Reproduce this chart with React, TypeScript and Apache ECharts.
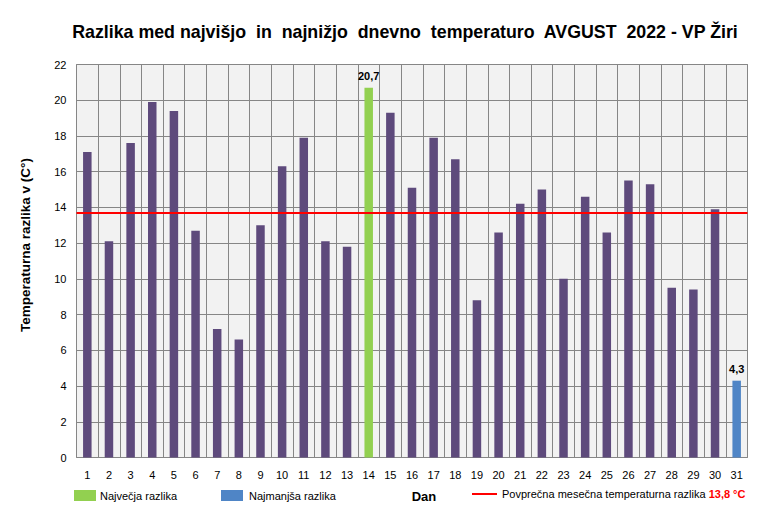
import React, { useEffect, useRef } from "react";
import * as echarts from "echarts";

const days: string[] = Array.from({ length: 31 }, (_, i) => String(i + 1));
const tempDiff: number[] = [
  17.1, 12.1, 17.6, 19.9, 19.4, 12.7, 7.2, 6.6, 13.0, 16.3, 17.9, 12.1, 11.8, 20.7, 19.3, 15.1,
  17.9, 16.7, 8.8, 12.6, 14.2, 15.0, 10.0, 14.6, 12.6, 15.5, 15.3, 9.5, 9.4, 13.9, 4.3,
];
const averageDiff = 13.7;
const averageLabel = "13,8 °C";
const titleText = "Razlika med najvišjo  in  najnižjo  dnevno  temperaturo  AVGUST  2022 - VP Žiri";
const yAxisName = "Temperaturna razlika v (C°)";
const xAxisName = "Dan";
const legendMax = "Največja razlika";
const legendMin = "Najmanjša razlika";
const legendAvg = "Povprečna mesečna temperaturna razlika";

const PURPLE = "#5e4a7c";
const GREEN = "#92d050";
const BLUE = "#4f85c6";
const FONT = "Liberation Sans";

export default function App() {
  const ref = useRef<HTMLDivElement>(null);
  useEffect(() => {
    if (!ref.current) return;
    const chart = echarts.init(ref.current, null, { renderer: "svg" });
    const maxV = Math.max(...tempDiff);
    const minV = Math.min(...tempDiff);
    const data = tempDiff.map((v) => {
      const isMax = v === maxV;
      const isMin = v === minV;
      return {
        value: v,
        itemStyle: { color: isMax ? GREEN : isMin ? BLUE : PURPLE },
        label: {
          show: isMax || isMin,
          position: "top",
          distance: 6,
          formatter: () => String(v).replace(".", ","),
          fontFamily: FONT,
          fontWeight: "bold",
          fontSize: 11,
          color: "#000",
        },
      };
    });
    chart.setOption({
      animation: false,
      grid: {
        left: 76.5,
        right: 22.5,
        top: 64.5,
        bottom: 53.5,
        show: true,
        backgroundColor: "#f2f2f2",
        borderColor: "#868686",
        borderWidth: 1,
      },
      xAxis: {
        type: "category",
        data: days,
        boundaryGap: true,
        axisLine: { show: false },
        axisTick: { show: false },
        splitLine: { show: true, lineStyle: { color: "#868686", width: 1 } },
        axisLabel: { margin: 12, fontFamily: FONT, fontSize: 11, color: "#000", interval: 0 },
      },
      yAxis: {
        type: "value",
        min: 0,
        max: 22,
        interval: 2,
        axisLine: { show: false },
        axisTick: { show: false },
        splitLine: { show: true, lineStyle: { color: "#868686", width: 1 } },
        axisLabel: { margin: 10, fontFamily: FONT, fontSize: 11, color: "#000" },
      },
      series: [
        {
          type: "bar",
          data,
          barWidth: 8.5,
          markLine: {
            silent: true,
            symbol: "none",
            label: { show: false },
            lineStyle: { color: "#ff0000", width: 2, type: "solid" },
            data: [{ yAxis: averageDiff }],
          },
        },
      ],
      graphic: [
        {
          type: "text",
          x: 405,
          y: 32,
          style: {
            text: titleText,
            align: "center",
            verticalAlign: "middle",
            textAlign: "center",
            textVerticalAlign: "middle",
            font: `bold 17.8px "${FONT}"`,
            fill: "#000",
          },
        },
        {
          type: "text",
          x: 25,
          y: 245,
          rotation: Math.PI / 2,
          style: {
            text: yAxisName,
            align: "center",
            verticalAlign: "middle",
            textAlign: "center",
            textVerticalAlign: "middle",
            font: `bold 13.5px "${FONT}"`,
            fill: "#000",
          },
        },
        { type: "rect", shape: { x: 74, y: 490, width: 22, height: 11 }, style: { fill: GREEN } },
        {
          type: "text",
          x: 100,
          y: 495.5,
          style: {
            text: legendMax,
            verticalAlign: "middle",
            textVerticalAlign: "middle",
            font: `11px "${FONT}"`,
            fill: "#000",
          },
        },
        { type: "rect", shape: { x: 221, y: 490, width: 22, height: 11 }, style: { fill: BLUE } },
        {
          type: "text",
          x: 249,
          y: 495.5,
          style: {
            text: legendMin,
            verticalAlign: "middle",
            textVerticalAlign: "middle",
            font: `11px "${FONT}"`,
            fill: "#000",
          },
        },
        {
          type: "text",
          x: 424,
          y: 496,
          style: {
            text: xAxisName,
            align: "center",
            verticalAlign: "middle",
            textAlign: "center",
            textVerticalAlign: "middle",
            font: `bold 13px "${FONT}"`,
            fill: "#000",
          },
        },
        {
          type: "line",
          shape: { x1: 472, y1: 494, x2: 497, y2: 494 },
          style: { stroke: "#ff0000", lineWidth: 2 },
        },
        {
          type: "text",
          x: 502,
          y: 494,
          style: {
            text: `{a|${legendAvg}} {b|${averageLabel}}`,
            verticalAlign: "middle",
            textVerticalAlign: "middle",
            font: `11px "${FONT}"`,
            rich: {
              a: { fontFamily: FONT, fontSize: 11, fill: "#000", color: "#000" },
              b: { fontFamily: FONT, fontSize: 11, fontWeight: "bold", fill: "#ff0000", color: "#ff0000" },
            },
          },
        },
      ],
    });
    return () => chart.dispose();
  }, []);
  return (
    <div
      ref={ref}
      style={{ position: "fixed", left: 0, top: 0, width: 770, height: 511, background: "#fff" }}
    />
  );
}
